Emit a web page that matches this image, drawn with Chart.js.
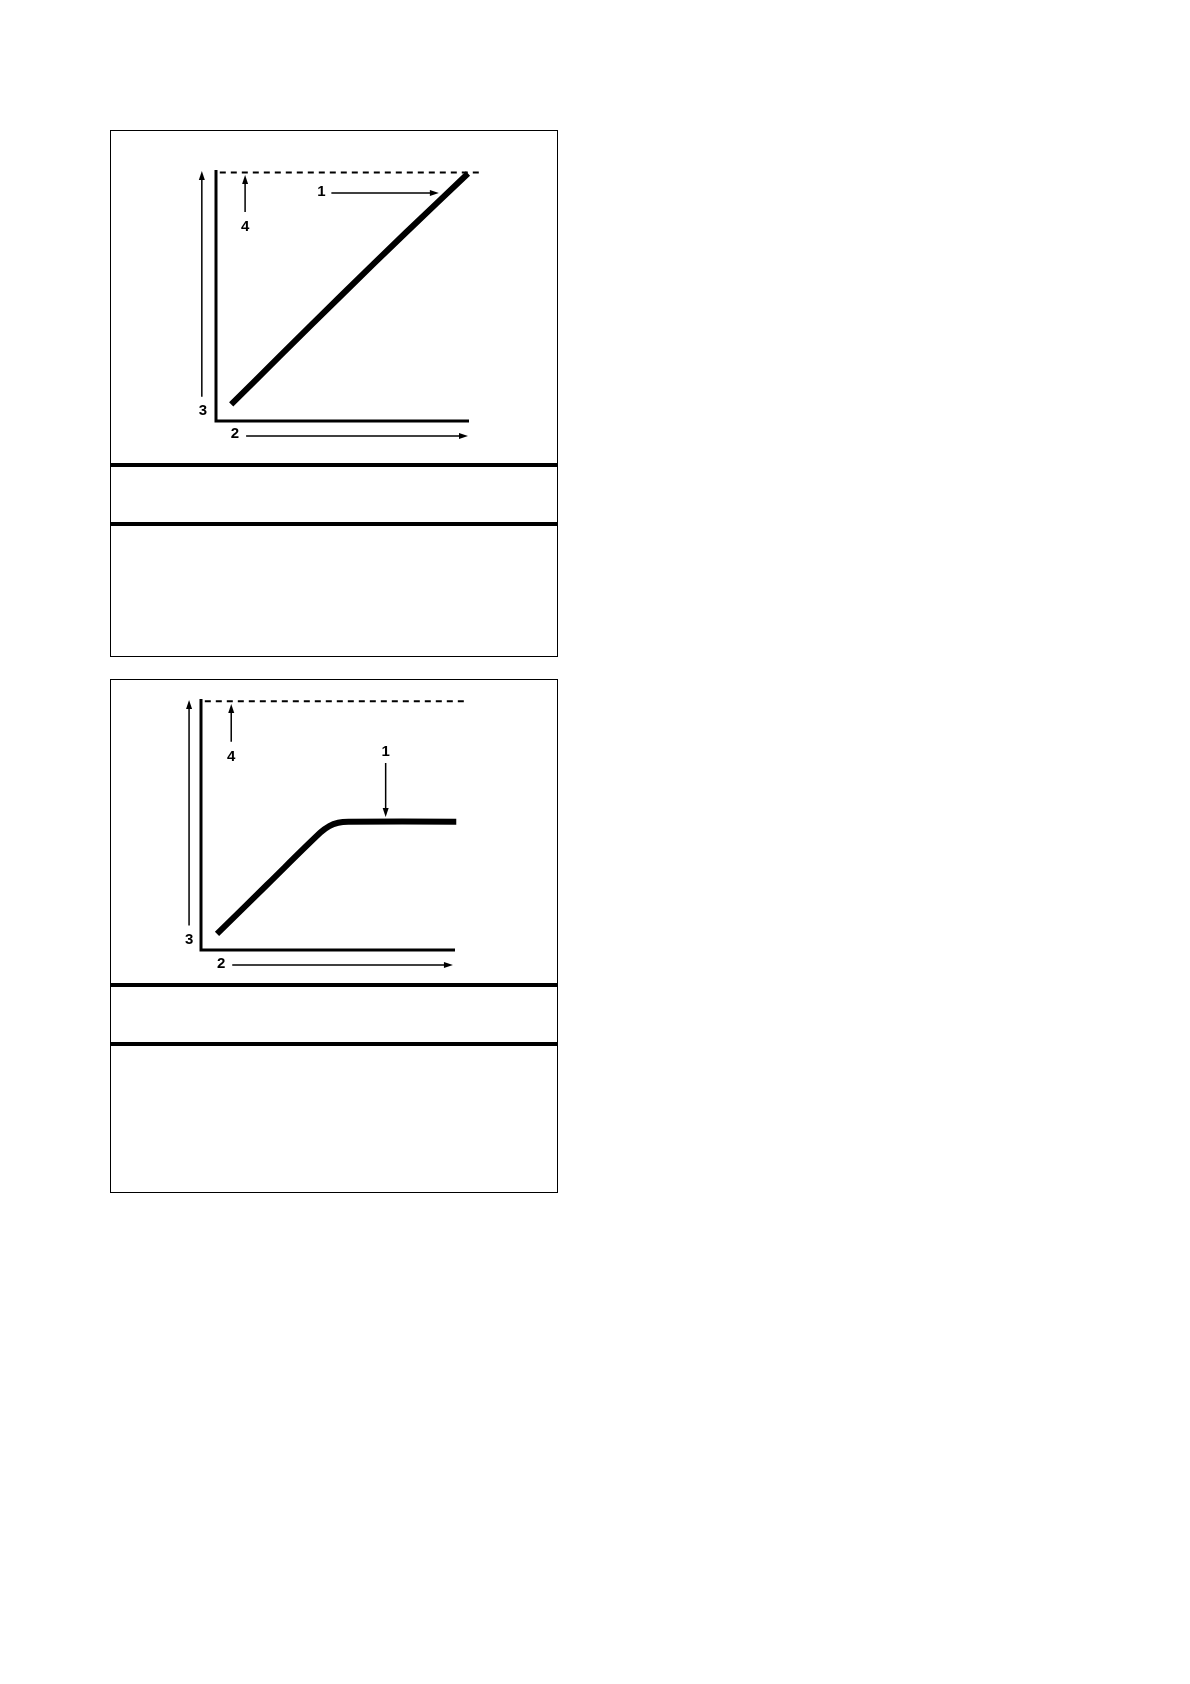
<!DOCTYPE html>
<html>
<head>
<meta charset="utf-8">
<script src="https://cdn.jsdelivr.net/npm/chart.js@4.4.1/dist/chart.umd.min.js"></script>
<style>
  body { margin: 0; background: #fff; }
  .box { position: absolute; left: 110px; width: 446px; border: 1px solid #000; }
  .rule { position: absolute; left: 0; width: 446px; height: 4px; background: #000; }
  canvas { position: absolute; left: 0; top: 0; }
</style>
</head>
<body>

<div class="box" style="top:130px;height:525px;">
  <canvas id="panelA" width="446" height="332"></canvas>
  <div class="rule" style="top:332px;"></div>
  <div class="rule" style="top:391px;"></div>
</div>

<div class="box" style="top:679px;height:512px;">
  <canvas id="panelB" width="446" height="303"></canvas>
  <div class="rule" style="top:303px;"></div>
  <div class="rule" style="top:362px;"></div>
</div>

<script>
// panel A: straight rise up to the limit
const curveAX = [0.6, 2.5, 5.0, 7.5, 9.96];
const curveAY = [0.66, 2.56, 5.05, 7.5, 9.86];
const limitAX = [0.15, 10.44];
const limitAY = [9.9, 9.9];
// arrows: [x1, y1, x2, y2], head at the second point
const arrowsA = [
  [-0.56, 0.97, -0.56, 9.96],
  [1.19, -0.6, 9.96, -0.6],
  [1.15, 8.33, 1.15, 9.8],
  [4.56, 9.08, 8.81, 9.08]
];
const labelsA = ['3', '2', '4', '1'];
const labelXA = [-0.52, 0.75, 1.15, 4.17];
const labelYA = [0.4, -0.52, 7.73, 9.13];

// panel B: rise then level off below the limit
const curveBX = [0.63, 2.6, 4.7, 5.05, 5.4, 5.8, 10.05];
const curveBY = [0.64, 2.6, 4.68, 4.94, 5.07, 5.11, 5.11];
const limitBX = [0.15, 10.43];
const limitBY = [9.91, 9.91];
const arrowsB = [
  [-0.47, 0.98, -0.47, 9.96],
  [1.23, -0.6, 9.92, -0.6],
  [1.19, 8.3, 1.19, 9.8],
  [7.27, 7.45, 7.27, 5.3]
];
const labelsB = ['3', '2', '4', '1'];
const labelXB = [-0.47, 0.79, 1.19, 7.27];
const labelYB = [0.4, -0.54, 7.68, 7.91];

function pts(xs, ys) {
  return xs.map((x, i) => ({ x: x, y: ys[i] }));
}

const sketchPlugin = {
  id: 'sketch',
  beforeDatasetsDraw(chart) {
    const ctx = chart.ctx;
    const sx = chart.scales.x, sy = chart.scales.y;
    ctx.save();
    ctx.strokeStyle = '#000';
    ctx.lineWidth = 3;
    ctx.lineJoin = 'miter';
    ctx.beginPath();
    ctx.moveTo(sx.getPixelForValue(0), sy.getPixelForValue(10));
    ctx.lineTo(sx.getPixelForValue(0), sy.getPixelForValue(0));
    ctx.lineTo(sx.getPixelForValue(10), sy.getPixelForValue(0));
    ctx.stroke();
    ctx.restore();
  },
  afterDatasetsDraw(chart) {
    const ctx = chart.ctx;
    const sx = chart.scales.x, sy = chart.scales.y;
    const o = chart.options.plugins.sketch;
    ctx.save();
    ctx.strokeStyle = '#000';
    ctx.fillStyle = '#000';
    o.arrows.forEach(a => {
      const x1 = sx.getPixelForValue(a[0]), y1 = sy.getPixelForValue(a[1]);
      const x2 = sx.getPixelForValue(a[2]), y2 = sy.getPixelForValue(a[3]);
      const ang = Math.atan2(y2 - y1, x2 - x1);
      ctx.lineWidth = 1.5;
      ctx.beginPath();
      ctx.moveTo(x1, y1);
      ctx.lineTo(x2 - 6 * Math.cos(ang), y2 - 6 * Math.sin(ang));
      ctx.stroke();
      ctx.beginPath();
      ctx.moveTo(x2, y2);
      ctx.lineTo(x2 - 9 * Math.cos(ang) + 3 * Math.sin(ang), y2 - 9 * Math.sin(ang) - 3 * Math.cos(ang));
      ctx.lineTo(x2 - 9 * Math.cos(ang) - 3 * Math.sin(ang), y2 - 9 * Math.sin(ang) + 3 * Math.cos(ang));
      ctx.closePath();
      ctx.fill();
    });
    ctx.font = 'bold 15px "Liberation Sans", Arial, sans-serif';
    ctx.textAlign = 'center';
    ctx.textBaseline = 'middle';
    o.labels.forEach((t, i) => {
      ctx.fillText(t, sx.getPixelForValue(o.labelX[i]), sy.getPixelForValue(o.labelY[i]));
    });
    ctx.restore();
  }
};

function makePanel(id, curve, limit, arrows, labels, labelX, labelY, pad) {
  return new Chart(document.getElementById(id), {
    type: 'line',
    data: {
      datasets: [{
        data: curve,
        borderColor: '#000',
        borderWidth: 6,
        borderCapStyle: 'butt',
        tension: 0.35,
        pointRadius: 0,
        fill: false,
        clip: false
      }, {
        data: limit,
        borderColor: '#000',
        borderWidth: 2,
        borderDash: [6, 5],
        pointRadius: 0,
        fill: false,
        clip: false
      }]
    },
    options: {
      responsive: false,
      animation: false,
      layout: { padding: pad },
      scales: {
        x: { type: 'linear', min: 0, max: 10, display: false },
        y: { type: 'linear', min: 0, max: 10, display: false }
      },
      plugins: {
        legend: { display: false },
        tooltip: { enabled: false },
        sketch: { arrows: arrows, labels: labels, labelX: labelX, labelY: labelY }
      }
    },
    plugins: [sketchPlugin]
  });
}

makePanel('panelA', pts(curveAX, curveAY), pts(limitAX, limitAY), arrowsA,
  labelsA, labelXA, labelYA, { left: 105, right: 88, top: 39, bottom: 42 });
makePanel('panelB', pts(curveBX, curveBY), pts(limitBX, limitBY), arrowsB,
  labelsB, labelXB, labelYB, { left: 90, right: 102, top: 19, bottom: 33 });
</script>
</body>
</html>
